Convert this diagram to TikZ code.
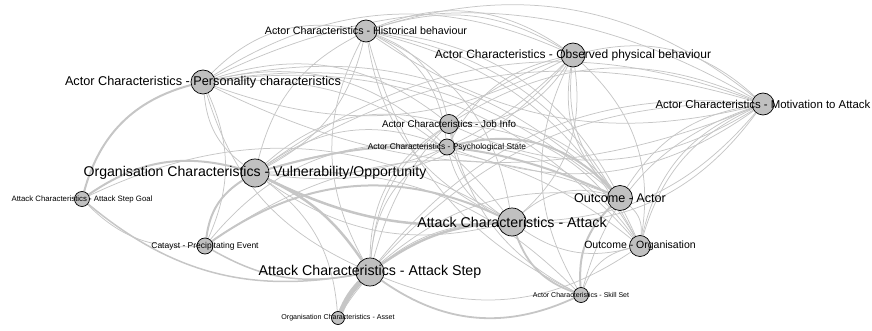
\documentclass[tikz,border=0pt]{standalone}
\usepackage{fontspec}
\setmainfont{Liberation Sans}
\usetikzlibrary{backgrounds}
\definecolor{edgegrey}{RGB}{198,198,198}
\definecolor{nodegrey}{RGB}{192,192,192}
\newcommand{\lblsize}[1]{\fontsize{#1}{#1}\selectfont}
\tikzset{factor/.style={circle,draw=black,fill=nodegrey,line width=0.7pt,inner sep=0pt},
         edge/.style={draw=edgegrey,line width=0.75pt},
         heavy/.style={draw=edgegrey,line width=2pt},
         txt/.style={inner sep=0pt,text=black},
        }

\begin{document}
\begin{tikzpicture}[x=1pt,y=-1pt]
        \useasboundingbox (0,0) rectangle (872,331);

        \node[factor,minimum size=22pt](hb)at(366,31){};
        \node[factor,minimum size=24pt](pc)at(203,82){};
        \node[factor,minimum size=24pt](opb)at(573,55){};
        \node[factor,minimum size=22pt](ma)at(763,104){};
        \node[factor,minimum size=19pt](ji)at(449,124){};
        \node[factor,minimum size=16pt](ps)at(447,147){};
        \node[factor,minimum size=28pt](vo)at(255,173){};
        \node[factor,minimum size=15pt](asg)at(82,199){};
        \node[factor,minimum size=16pt](cpe)at(205,246){};
        \node[factor,minimum size=28pt](aca)at(512,222){};
        \node[factor,minimum size=25pt](oa)at(620,198){};
        \node[factor,minimum size=21pt](oo)at(640,246){};
        \node[factor,minimum size=28pt](as)at(370,272){};
        \node[factor,minimum size=15pt](ss)at(581,295){};
        \node[factor,minimum size=13pt](ast)at(338,318){};

        \begin{pgfonlayer}{background}
        % thin links
        \foreach \a/\b in {pc/opb,pc/ma,hb/ma,hb/opb,opb/ma,pc/hb,hb/ji,hb/ps,hb/aca,hb/oa,hb/oo,
                           pc/ji,pc/ps,pc/aca,pc/oa,pc/oo,opb/ji,opb/vo,opb/aca,opb/oo,ma/ji,
                           ma/ps,ma/aca,ji/ps,ji/oa,ji/oo,ps/oo,aca/oa,oa/oo,oo/as,
                           vo/ji,vo/ma,as/hb,as/opb,as/ma,ss/ma,ss/opb,asg/aca,cpe/ps,cpe/oa,
                           ast/aca,ss/oo,vo/oo,as/ps,vo/ps,ji/ma,oa/opb,oo/ma,as/ji,aca/hb}
            \draw[edge](\a)to[bend left=28](\b);
        \foreach \a/\b in {pc/opb,pc/ma,hb/ma,hb/vo,pc/vo,pc/as,opb/ps,opb/oa,ma/vo,ma/oa,ma/oo,
                           ma/as,ji/aca,ji/as,ps/aca,vo/aca,aca/oo,oa/as,vo/hb,cpe/pc,ss/vo,
                           ast/vo,asg/cpe,hb/ss,ji/ss,opb/hb,aca/ma,oa/pc,ps/ji,oo/hb,vo/opb}
            \draw[edge](\a)to[bend right=24](\b);

        % heavy links
        \draw[edgegrey,line width=5pt](ast)to[bend left=10](as);
        \draw[heavy](asg)to[bend left=30](pc);
        \draw[heavy](asg)to[bend left=25](vo);
        \draw[heavy,line width=1.5pt](as)to[bend left=25](asg);
        \draw[heavy](cpe)to[bend left=25](vo);
        \draw[heavy](cpe)to[bend left=30](aca);
        \draw[heavy,line width=1.5pt](cpe)to[bend right=20](as);
        \draw[heavy,line width=2.5pt](vo)to[bend right=15](aca);
        \draw[heavy,line width=2.5pt](vo)to[bend left=15](as);
        \draw[heavy,line width=2.5pt](aca)to[bend right=15](as);
        \draw[heavy](vo)to[bend left=20](oa);
        \draw[heavy](ps)to[bend left=30](oa);
        \draw[heavy](oa)to[bend right=25](ss);
        \draw[heavy,line width=1.8pt](aca)to[bend right=25](ss);
        \draw[heavy,line width=1.8pt](as)to[bend right=30](ss);
        \end{pgfonlayer}

        % texts
        \node[txt,font=\lblsize{10.7}](hb-t)at(hb){Actor Characteristics - Historical behaviour};
        \node[txt,font=\lblsize{12.7}](pc-t)at(pc){Actor Characteristics - Personality characteristics};
        \node[txt,font=\lblsize{12}](opb-t)at(opb){Actor Characteristics - Observed physical behaviour};
        \node[txt,font=\lblsize{11.4}](ma-t)at(ma){Actor Characteristics - Motivation to Attack};
        \node[txt,font=\lblsize{9.8}](ji-t)at(ji){Actor Characteristics - Job Info};
        \node[txt,font=\lblsize{8.4}](ps-t)at(ps){Actor Characteristics - Psychological State};
        \node[txt,font=\lblsize{14.1}](vo-t)at(vo){Organisation Characteristics - Vulnerability/Opportunity};
        \node[txt,font=\lblsize{7.8}](asg-t)at(asg){Attack Characteristics - Attack Step Goal};
        \node[txt,font=\lblsize{8.5}](cpe-t)at(cpe){Catayst - Precipitating Event};
        \node[txt,font=\lblsize{14.2}](aca-t)at(aca){Attack Characteristics - Attack};
        \node[txt,font=\lblsize{12.6}](oa-t)at(oa){Outcome - Actor};
        \node[txt,font=\lblsize{10.5}](oo-t)at(oo){Outcome - Organisation};
        \node[txt,font=\lblsize{14.2}](as-t)at(as){Attack Characteristics - Attack Step};
        \node[txt,font=\lblsize{7}](ss-t)at(ss){Actor Characteristics - Skill Set};
        \node[txt,font=\lblsize{7.1}](ast-t)at(ast){Organisation Characteristics - Asset};
\end{tikzpicture}
\end{document}
